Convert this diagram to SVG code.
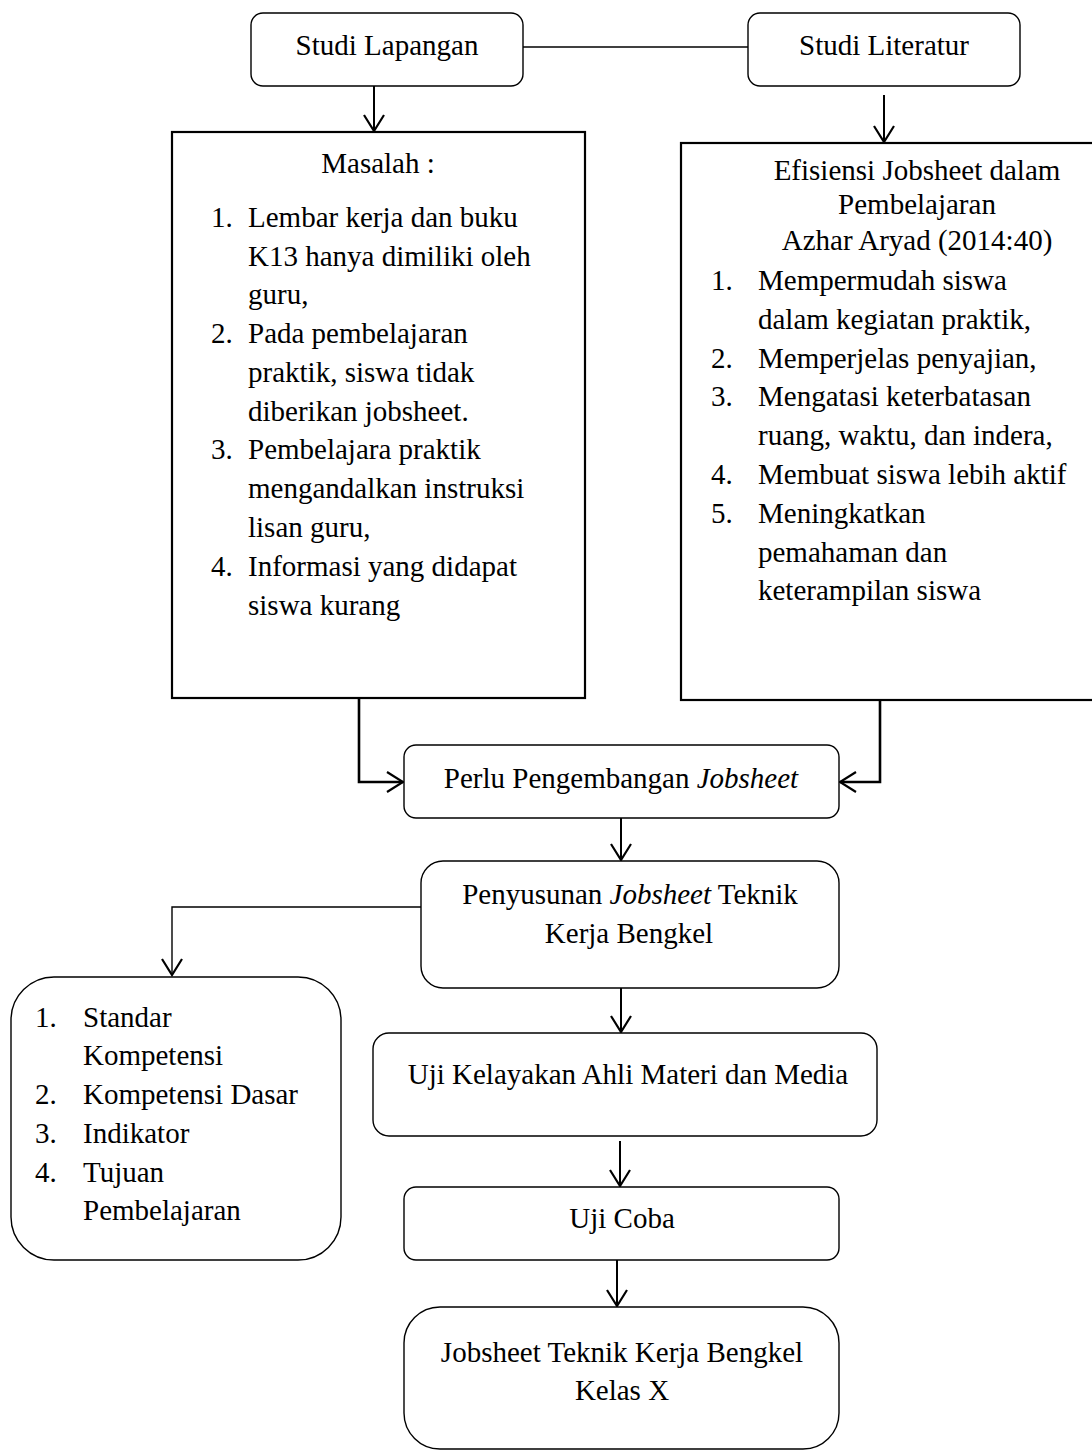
<svg xmlns="http://www.w3.org/2000/svg" width="1092" height="1452" viewBox="0 0 1092 1452">
<style>
  text { font-family: "Liberation Serif", "Times New Roman", serif; font-size: 29px; fill: #000; }
  .c { text-anchor: middle; }
  .rbox { fill: #fff; stroke: #000; stroke-width: 1.4; }
  .sbox { fill: #fff; stroke: #000; stroke-width: 2.2; }
  .conn { fill: none; stroke: #000; stroke-width: 2; }
  .thin { fill: none; stroke: #000; stroke-width: 1.4; }
</style>
<defs>
  <marker id="arr" markerUnits="userSpaceOnUse" viewBox="0 0 20 24" refX="18" refY="12" markerWidth="20" markerHeight="24" orient="auto">
    <path d="M2,2 L18,12 L2,22" fill="none" stroke="#000" stroke-width="2.2"/>
  </marker>
</defs>
<rect width="1092" height="1452" fill="#fff"/>

<g id="connectors">
  <line class="thin" x1="523" y1="47" x2="748" y2="47"/>
  <line class="conn" x1="374" y1="86" x2="374" y2="131" marker-end="url(#arr)"/>
  <line class="conn" x1="884" y1="95" x2="884" y2="142" marker-end="url(#arr)"/>
  <polyline class="conn" points="359,698 359,782 403,782" marker-end="url(#arr)" style="stroke-width:2.6"/>
  <polyline class="conn" points="880,700 880,782 840,782" marker-end="url(#arr)" style="stroke-width:2.6"/>
  <line class="conn" x1="621" y1="818" x2="621" y2="860" marker-end="url(#arr)"/>
  <polyline class="thin" points="421,907 172,907 172,975" marker-end="url(#arr)"/>
  <line class="conn" x1="621" y1="988" x2="621" y2="1032" marker-end="url(#arr)"/>
  <line class="conn" x1="620" y1="1141" x2="620" y2="1186" marker-end="url(#arr)"/>
  <line class="conn" x1="617" y1="1260" x2="617" y2="1306" marker-end="url(#arr)"/>
</g>

<g id="studi-lapangan">
  <rect class="rbox" x="251" y="13" width="272" height="73" rx="12"/>
  <text class="c" x="387" y="55">Studi Lapangan</text>
</g>

<g id="studi-literatur">
  <rect class="rbox" x="748" y="13" width="272" height="73" rx="12"/>
  <text class="c" x="884" y="55">Studi Literatur</text>
</g>

<g id="masalah">
  <rect class="sbox" x="172" y="132" width="413" height="566"/>
  <text class="c" x="378" y="173">Masalah :</text>
  <text x="211" y="227">1.</text><text x="248" y="227">Lembar kerja dan buku</text>
  <text x="248" y="266">K13 hanya dimiliki oleh</text>
  <text x="248" y="304">guru,</text>
  <text x="211" y="343">2.</text><text x="248" y="343">Pada pembelajaran</text>
  <text x="248" y="382">praktik, siswa tidak</text>
  <text x="248" y="421">diberikan jobsheet.</text>
  <text x="211" y="459">3.</text><text x="248" y="459">Pembelajara praktik</text>
  <text x="248" y="498">mengandalkan instruksi</text>
  <text x="248" y="537">lisan guru,</text>
  <text x="211" y="576">4.</text><text x="248" y="576">Informasi yang didapat</text>
  <text x="248" y="615">siswa kurang</text>
</g>

<g id="efisiensi">
  <rect class="sbox" x="681" y="143" width="430" height="557"/>
  <text class="c" x="917" y="180">Efisiensi Jobsheet dalam</text>
  <text class="c" x="917" y="214">Pembelajaran</text>
  <text class="c" x="917" y="250">Azhar Aryad (2014:40)</text>
  <text x="711" y="290">1.</text><text x="758" y="290">Mempermudah siswa</text>
  <text x="758" y="329">dalam kegiatan praktik,</text>
  <text x="711" y="368">2.</text><text x="758" y="368">Memperjelas penyajian,</text>
  <text x="711" y="406">3.</text><text x="758" y="406">Mengatasi keterbatasan</text>
  <text x="758" y="445">ruang, waktu, dan indera,</text>
  <text x="711" y="484">4.</text><text x="758" y="484">Membuat siswa lebih aktif</text>
  <text x="711" y="523">5.</text><text x="758" y="523">Meningkatkan</text>
  <text x="758" y="562">pemahaman dan</text>
  <text x="758" y="600">keterampilan siswa</text>
</g>

<g id="perlu">
  <rect class="rbox" x="404" y="745" width="435" height="73" rx="12"/>
  <text class="c" x="621" y="788">Perlu Pengembangan <tspan font-style="italic">Jobsheet</tspan></text>
</g>

<g id="penyusunan">
  <rect class="rbox" x="421" y="861" width="418" height="127" rx="22"/>
  <text class="c" x="630" y="904">Penyusunan <tspan font-style="italic">Jobsheet</tspan> Teknik</text>
  <text class="c" x="629" y="943">Kerja Bengkel</text>
</g>

<g id="komponen">
  <rect class="rbox" x="11" y="977" width="330" height="283" rx="43"/>
  <text x="35" y="1027">1.</text><text x="83" y="1027">Standar</text>
  <text x="83" y="1065">Kompetensi</text>
  <text x="35" y="1104">2.</text><text x="83" y="1104">Kompetensi Dasar</text>
  <text x="35" y="1143">3.</text><text x="83" y="1143">Indikator</text>
  <text x="35" y="1182">4.</text><text x="83" y="1182">Tujuan</text>
  <text x="83" y="1220">Pembelajaran</text>
</g>

<g id="uji-kelayakan">
  <rect class="rbox" x="373" y="1033" width="504" height="103" rx="16"/>
  <text class="c" x="628" y="1084">Uji Kelayakan Ahli Materi dan Media</text>
</g>

<g id="uji-coba">
  <rect class="rbox" x="404" y="1187" width="435" height="73" rx="12"/>
  <text class="c" x="622" y="1228">Uji Coba</text>
</g>

<g id="hasil">
  <rect class="rbox" x="404" y="1307" width="435" height="142" rx="36"/>
  <text class="c" x="622" y="1362">Jobsheet Teknik Kerja Bengkel</text>
  <text class="c" x="622" y="1400">Kelas X</text>
</g>
</svg>
